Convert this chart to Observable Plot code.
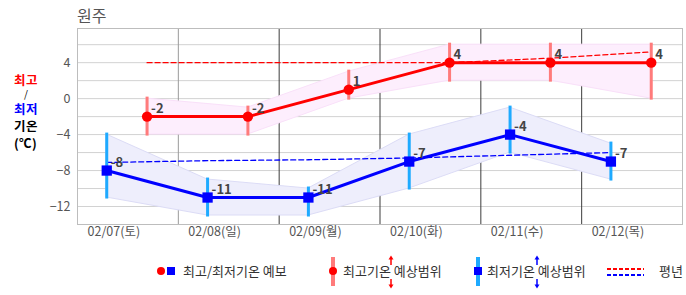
<!DOCTYPE html>
<html><head><meta charset="utf-8">
<script src="https://cdn.jsdelivr.net/npm/d3@7"></script>
<script src="https://cdn.jsdelivr.net/npm/@observablehq/plot@0.6"></script>
<style>
@font-face{font-family:"KRTight";src:local("Noto Sans CJK KR Bold"),local("NotoSansCJKkr-Bold");font-weight:bold;ascent-override:92%;descent-override:14%;line-gap-override:0%;}
@font-face{font-family:"KRTight";src:local("Noto Sans CJK KR"),local("Noto Sans CJK KR Regular"),local("NotoSansCJKkr-Regular");font-weight:normal;ascent-override:92%;descent-override:14%;line-gap-override:0%;}
body{margin:0;background:#fff;font-family:"Noto Sans CJK KR","Noto Sans",sans-serif;}
#wrap{position:relative;width:686px;height:295px;overflow:hidden;}
#chart{position:absolute;left:0;top:0;}
.abs{position:absolute;line-height:1;white-space:nowrap;}
.leg{font-size:13px;color:#333;}
#ylab{position:absolute;left:14px;top:73px;width:30px;font-weight:bold;font-size:12.5px;font-family:"KRTight","Noto Sans CJK KR",sans-serif;}
#ylab div{white-space:nowrap;}
</style></head>
<body><div id="wrap"><div id="chart"></div>
<div id="ylab">
  <div style="height:15px;line-height:15px;color:#ff0000">최고</div>
  <div style="height:13px;line-height:13px;font-size:10px;font-weight:normal;color:#000;padding-left:10px">/</div>
  <div style="height:16px;line-height:16px;color:#0000ff">최저</div>
  <div style="height:18px;line-height:18px;color:#000">기온</div>
  <div style="height:16px;line-height:16px;color:#000">(℃)</div>
</div>
</div>
<script>
const days = ["02/07(토)","02/08(일)","02/09(월)","02/10(화)","02/11(수)","02/12(목)"];
const maxTemp = [-2,-2,1,4,4,4];
const maxLow  = [-4,-4,0,2,2,0];
const maxHigh = [0,-1,3,6,6,6];
const minTemp = [-8,-11,-11,-7,-4,-7];
const minLow  = [-11,-13,-13,-10,-6,-9];
const minHigh = [-4,-9,-10,-4,-1,-5];
const normalMax = [4,4,4,4,4.5,5.2];
const normalMin = [-7.1,-6.9,-6.8,-6.6,-6.3,-6.0];
const yTicks = [-12,-8,-4,0,4];
const yGrid = [-12,-10,-8,-6,-4,-2,0,2,4,6];

const data = days.map((d,i)=>({
  day:d, xMin:i+0.29, xMax:i+0.69,
  max:maxTemp[i], maxLo:maxLow[i], maxHi:maxHigh[i],
  min:minTemp[i], minLo:minLow[i], minHi:minHigh[i],
  nMax:normalMax[i], nMin:normalMin[i]
}));

const plot = Plot.plot({
  width:686, height:295,
  marginTop:28, marginBottom:71, marginLeft:77, marginRight:4,
  x:{domain:[0,6]},
  y:{domain:[-14,7.8]},
  style:{fontFamily:'"Noto Sans CJK KR","Noto Sans",sans-serif', fontSize:"12px", background:"transparent"},
  marks:[
    Plot.ruleY(yGrid,{stroke:"#d2d2d2"}),
    Plot.ruleX([1],{stroke:"#9a9a9a"}),
    Plot.ruleX([2,3,4,5],{stroke:"#3c3c3c"}),
    Plot.frame({stroke:"#bdbdbd"}),
    Plot.areaY(data,{x:"xMax", y1:"maxLo", y2:"maxHi", fill:"#fdeefd", stroke:"#f9e0f9", strokeWidth:1}),
    Plot.areaY(data,{x:"xMin", y1:"minLo", y2:"minHi", fill:"#eeeefc", stroke:"#dcdcf6", strokeWidth:1}),
    Plot.lineY(data,{x:"xMax", y:"nMax", stroke:"#ff0000", strokeWidth:1.3, strokeDasharray:"5,3"}),
    Plot.lineY(data,{x:"xMin", y:"nMin", stroke:"#0000ff", strokeWidth:1.3, strokeDasharray:"5,3"}),
    Plot.ruleX(data,{x:"xMax", y1:"maxLo", y2:"maxHi", stroke:"#ff7b7b", strokeWidth:3, strokeLinecap:"square"}),
    Plot.ruleX(data,{x:"xMin", y1:"minLo", y2:"minHi", stroke:"#1eaaff", strokeWidth:3, strokeLinecap:"square"}),
    Plot.lineY(data,{x:"xMax", y:"max", stroke:"#ff0000", strokeWidth:3}),
    Plot.lineY(data,{x:"xMin", y:"min", stroke:"#0000ff", strokeWidth:3}),
    Plot.dot(data,{x:"xMax", y:"max", r:5.2, fill:"#ff0000", stroke:"none"}),
    Plot.dot(data,{x:"xMin", y:"min", symbol:"square", r:5.8, fill:"#0000ff", stroke:"none"}),
    Plot.text(data,{x:"xMax", y:"max", text:d=>String(d.max), dx:4, dy:-4, textAnchor:"start", lineAnchor:"bottom", fontWeight:"bold", fill:"#444", fontSize:13}),
    Plot.text(data,{x:"xMin", y:"min", text:d=>String(d.min), dx:4, dy:-4, textAnchor:"start", lineAnchor:"bottom", fontWeight:"bold", fill:"#444", fontSize:13}),
    Plot.axisY({ticks:yTicks, tickSize:0, tickPadding:7, color:"#555", fontSize:12.5, label:null}),
    Plot.axisX({ticks:[0.36,1.36,2.36,3.36,4.36,5.36], tickFormat:d=>days[Math.floor(d)], tickSize:0, tickPadding:3, color:"#555", fontSize:12.5, label:null})
  ]
});
const wrap = document.getElementById("wrap");
document.getElementById("chart").appendChild(plot);

function addText(txt, left, top, cls, color){
  const el = document.createElement("div");
  el.className = "abs " + cls;
  el.style.left = left+"px"; el.style.top = top+"px";
  if (color) el.style.color = color;
  el.textContent = txt;
  wrap.appendChild(el);
  return el;
}
// title
const t = addText("원주", 77, 7, "", "#555"); t.style.fontSize = "16px";

// legend texts
addText("최고/최저기온 예보", 183, 264, "leg");
addText("최고기온 예상범위", 343, 264, "leg");
addText("최저기온 예상범위", 487, 264, "leg");
addText("평년", 659, 264, "leg");

// legend icons
const svg = d3.select(wrap).append("svg")
  .attr("width",686).attr("height",295)
  .style("position","absolute").style("left","0").style("top","0").style("pointer-events","none");
svg.append("circle").attr("cx",161).attr("cy",271).attr("r",4).attr("fill","#ff0000");
svg.append("rect").attr("x",167).attr("y",267).attr("width",8).attr("height",8).attr("fill","#0000ff");
// max range icon
svg.append("line").attr("x1",333).attr("x2",333).attr("y1",257).attr("y2",286).attr("stroke","#ff7b7b").attr("stroke-width",4);
svg.append("circle").attr("cx",333).attr("cy",271).attr("r",4).attr("fill","#ff0000");
function arrows(x,color){
  svg.append("line").attr("x1",x).attr("x2",x).attr("y1",258).attr("y2",265).attr("stroke",color).attr("stroke-width",1.5);
  svg.append("path").attr("d",`M${x-2.5},259.5L${x},255.5L${x+2.5},259.5Z`).attr("fill",color);
  svg.append("line").attr("x1",x).attr("x2",x).attr("y1",279).attr("y2",286).attr("stroke",color).attr("stroke-width",1.5);
  svg.append("path").attr("d",`M${x-2.5},284.5L${x},288.5L${x+2.5},284.5Z`).attr("fill",color);
}
arrows(391,"#ff0000");
// min range icon
svg.append("line").attr("x1",478).attr("x2",478).attr("y1",257).attr("y2",286).attr("stroke","#1eaaff").attr("stroke-width",4);
svg.append("rect").attr("x",474).attr("y",267).attr("width",8).attr("height",8).attr("fill","#0000ff");
arrows(537,"#0000ff");
// normal icon
svg.append("line").attr("x1",607).attr("x2",644).attr("y1",269).attr("y2",269).attr("stroke","#ff0000").attr("stroke-width",2).attr("stroke-dasharray","4,2");
svg.append("line").attr("x1",607).attr("x2",644).attr("y1",275).attr("y2",275).attr("stroke","#0000ff").attr("stroke-width",2).attr("stroke-dasharray","4,2");
</script></body></html>
